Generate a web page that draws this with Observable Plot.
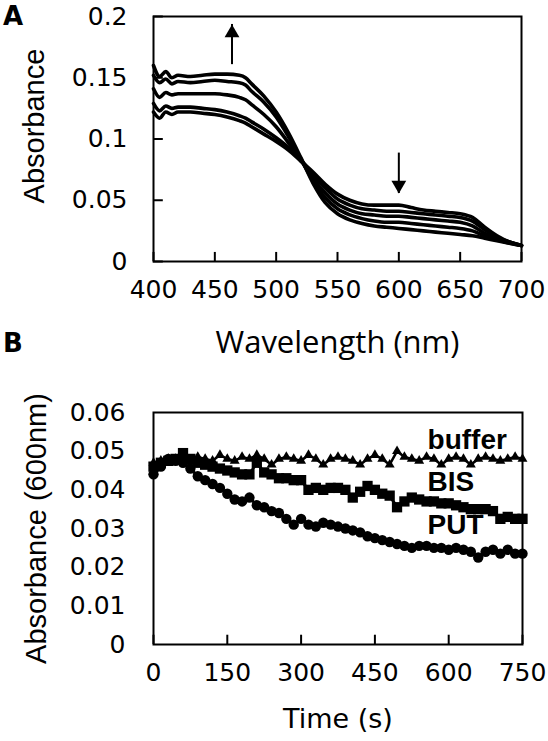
<!DOCTYPE html>
<html><head><meta charset="utf-8">
<script src="https://cdn.jsdelivr.net/npm/d3@7"></script>
<script src="https://cdn.jsdelivr.net/npm/@observablehq/plot@0.6"></script>
<style>
html,body{margin:0;padding:0;background:#fff;}
#wrap{position:relative;width:548px;height:741px;overflow:hidden;font-family:"Liberation Sans",Arial,sans-serif;}
.panel{position:absolute;font-family:"DejaVu Sans",sans-serif;font-weight:bold;font-size:26px;line-height:26px;color:#000;}
#chartA{position:absolute;left:0;top:0;}
#chartB{position:absolute;left:0;top:360px;}
</style></head><body>
<div id="wrap">
  <div id="chartA"></div>
  <div id="chartB"></div>
  <div class="panel" style="left:3px;top:3px">A</div>
  <div class="panel" style="left:3px;top:330px">B</div>
</div>
<script>
// ---------- Panel A data ----------
const wavelengths = [400,405,410,415,420,430,440,450,460,470,475,480,490,500,510,520,530,540,550,560,570,580,590,600,610,620,630,640,650,660,670,680,690,700];
const spectrum1 = [.160,.151,.155,.150,.152,.151,.152,.153,.153,.152,.150,.145,.135,.122,.105,.085,.064,.048,.039,.034,.031,.029,.028,.027,.026,.025,.024,.023,.022,.021,.019,.017,.015,.013];
const spectrum2 = [.152,.146,.149,.145,.147,.146,.147,.148,.147,.146,.144,.139,.130,.118,.102,.084,.066,.052,.043,.038,.035,.033,.032,.032,.031,.030,.029,.028,.027,.025,.021,.018,.015,.013];
const spectrum3 = [.141,.134,.138,.136,.137,.137,.137,.137,.136,.134,.132,.128,.120,.110,.097,.083,.068,.056,.047,.042,.039,.038,.037,.037,.036,.035,.034,.033,.032,.029,.023,.019,.016,.013];
const spectrum4 = [.129,.123,.127,.125,.126,.126,.125,.124,.122,.119,.117,.114,.108,.101,.093,.083,.071,.060,.051,.046,.043,.042,.041,.041,.040,.039,.038,.037,.036,.033,.026,.020,.016,.013];
const spectrum5 = [.122,.117,.122,.120,.122,.122,.121,.120,.118,.115,.113,.110,.104,.098,.091,.082,.073,.063,.055,.050,.047,.046,.046,.046,.044,.042,.041,.040,.039,.036,.028,.021,.016,.013];
const xTicksA = [400,450,500,550,600,650,700];
const yTicksA = [0,0.05,0.1,0.15,0.2];
const arrowsA = [
  {wl: 464, from: 0.1607, to: 0.1935, dir: "up"},
  {wl: 600, from: 0.0885, to: 0.0555, dir: "down"}
];

// ---------- Panel B data ----------
const timeS = [0,15,30,45,60,75,90,105,120,135,150,165,180,195,210,225,240,255,270,285,300,315,330,345,360,375,390,405,420,435,450,465,480,495,510,525,540,555,570,585,600,615,630,645,660,675,690,705,720,735,750];
const bufferAbs = [.047,.0475,.048,.048,.048,.0475,.0485,.048,.0475,.049,.048,.0475,.0485,.048,.049,.048,.0465,.048,.0485,.048,.0475,.049,.048,.0465,.048,.0485,.048,.0475,.0465,.048,.049,.048,.0465,.050,.0485,.048,.0475,.0485,.048,.0465,.048,.0485,.048,.0465,.048,.0485,.048,.0475,.048,.0485,.048];
const bisAbs = [.046,.047,.0475,.048,.0495,.048,.047,.0465,.046,.0455,.045,.0445,.044,.044,.047,.0445,.044,.043,.043,.0425,.0425,.040,.0405,.040,.0405,.0405,.040,.038,.0395,.041,.040,.039,.0385,.0355,.037,.038,.0375,.037,.037,.0365,.0365,.036,.0355,.035,.035,.035,.0345,.0325,.033,.0325,.0325];
const putAbs = [.044,.046,.048,.0475,.047,.0455,.0435,.0425,.0415,.0405,.039,.0375,.037,.038,.036,.0355,.0345,.034,.0325,.031,.0325,.031,.0305,.0315,.031,.0305,.030,.0295,.029,.028,.0275,.027,.0265,.026,.0255,.025,.0255,.0255,.025,.025,.0245,.025,.0245,.024,.0225,.024,.0245,.0235,.0245,.0235,.0235];
const xTicksB = [0,150,300,450,600,750];
const yTicksB = [0,0.01,0.02,0.03,0.04,0.05,0.06];
const seriesLabels = [
  {name: "buffer", t: 557, a: 0.0529},
  {name: "BIS", t: 557, a: 0.0420},
  {name: "PUT", t: 557, a: 0.0309}
];

// ---------- build tables ----------
const spectra = [spectrum1, spectrum2, spectrum3, spectrum4, spectrum5];
const specData = [];
spectra.forEach((vals, i) => vals.forEach((v, j) => specData.push({wl: wavelengths[j], a: v, s: i})));
const kin = (vals) => vals.map((v, i) => ({t: timeS[i], a: v}));

const FONT = "'Liberation Sans', Arial, sans-serif";
const TICKFONT = "'DejaVu Sans', sans-serif";
const downTriangle = {
  draw(context, size) {
    const y = Math.sqrt(size / (Math.sqrt(3) * 3));
    context.moveTo(0, y * 2);
    context.lineTo(-Math.sqrt(3) * y, -y);
    context.lineTo(Math.sqrt(3) * y, -y);
    context.closePath();
  }
};
// inward tick length, expressed in each panel's own data units (about 9-10 px)
const tickLenAx = 0.0074;   // absorbance units in panel A (vertical ticks on x axis)
const tickLenAy = 8;        // nm in panel A (horizontal ticks on y axis)
const tickLenBx = 0.0024;   // absorbance units in panel B

const plotA = Plot.plot({
  width: 548, height: 360,
  marginTop: 16, marginBottom: 99, marginLeft: 153, marginRight: 27,
  style: {fontFamily: FONT, color: "#000", background: "transparent", overflow: "visible"},
  x: {domain: [400, 700]},
  y: {domain: [0, 0.2]},
  marks: [
    Plot.line(specData, {x: "wl", y: "a", z: "s", stroke: "#000", strokeWidth: 3.6, curve: "monotone-x"}),
    Plot.axisX({ticks: xTicksA, tickSize: 0, tickPadding: 19, fontSize: 25, fontFamily: TICKFONT, label: null}),
    Plot.ruleX(xTicksA, {x: d => d, y1: 0, y2: tickLenAx, stroke: "#000", strokeWidth: 2}),
    Plot.axisY({ticks: yTicksA, tickSize: 0, tickPadding: 26, fontSize: 25, fontFamily: TICKFONT, tickFormat: d => String(d), label: null}),
    Plot.ruleY(yTicksA, {y: d => d, x1: 400, x2: 400 + tickLenAy, stroke: "#000", strokeWidth: 2}),
    Plot.frame({stroke: "#000", strokeWidth: 2}),
    Plot.ruleX(arrowsA, {x: "wl", y1: "from", y2: "to", stroke: "#000", strokeWidth: 2}),
    Plot.dot(arrowsA.filter(d => d.dir === "up"), {x: "wl", y: "to", symbol: "triangle", r: 5.5, fill: "#000", stroke: "none", dy: 8.6}),
    Plot.dot(arrowsA.filter(d => d.dir === "down"), {x: "wl", y: "to", symbol: downTriangle, r: 5.5, fill: "#000", stroke: "none", dy: -8.6}),
    Plot.text(["Absorbance"], {text: d => d, frameAnchor: "left", dx: -119, dy: -13, rotate: -90, fontSize: 29, lineAnchor: "middle", textAnchor: "middle"}),
    Plot.text(["Wavelength (nm)"], {text: d => d, frameAnchor: "bottom", dy: 82, fontSize: 31, fontFamily: "'Open Sans', sans-serif", lineAnchor: "middle"})
  ]
});
document.getElementById("chartA").appendChild(plotA);

const plotB = Plot.plot({
  width: 548, height: 381,
  marginTop: 52, marginBottom: 97, marginLeft: 153, marginRight: 26,
  style: {fontFamily: FONT, color: "#000", background: "transparent", overflow: "visible"},
  x: {domain: [0, 750]},
  y: {domain: [0, 0.06]},
  marks: [
    Plot.line(kin(putAbs), {x: "t", y: "a", stroke: "#000", strokeWidth: 3}),
    Plot.dot(kin(putAbs), {x: "t", y: "a", r: 5.2, fill: "#000", stroke: "none"}),
    Plot.line(kin(bisAbs), {x: "t", y: "a", stroke: "#000", strokeWidth: 3}),
    Plot.dot(kin(bisAbs), {x: "t", y: "a", symbol: "square", r: 5.8, fill: "#000", stroke: "none"}),
    Plot.line(kin(bufferAbs), {x: "t", y: "a", stroke: "#000", strokeWidth: 2.5}),
    Plot.dot(kin(bufferAbs), {x: "t", y: "a", symbol: "triangle", r: 3.7, fill: "#000", stroke: "none"}),
    Plot.text(seriesLabels, {x: "t", y: "a", text: "name", textAnchor: "start", lineAnchor: "middle", fontSize: 28, fontWeight: "bold"}),
    Plot.axisX({ticks: xTicksB, tickSize: 0, tickPadding: 19, fontSize: 25, fontFamily: TICKFONT, label: null}),
    Plot.ruleX(xTicksB, {x: d => d, y1: 0, y2: tickLenBx, stroke: "#000", strokeWidth: 2}),
    Plot.axisY({ticks: yTicksB, tickSize: 0, tickPadding: 28, fontSize: 25, fontFamily: TICKFONT, tickFormat: d => String(d), label: null}),
    Plot.frame({stroke: "#000", strokeWidth: 2}),
    Plot.text(["Absorbance (600nm)"], {text: d => d, frameAnchor: "left", dx: -117, rotate: -90, fontSize: 29, lineAnchor: "middle", textAnchor: "middle"}),
    Plot.text(["Time (s)"], {text: d => d, frameAnchor: "bottom", dy: 75, fontSize: 27, fontFamily: TICKFONT, lineAnchor: "middle"})
  ]
});
document.getElementById("chartB").appendChild(plotB);
</script>
</body></html>
